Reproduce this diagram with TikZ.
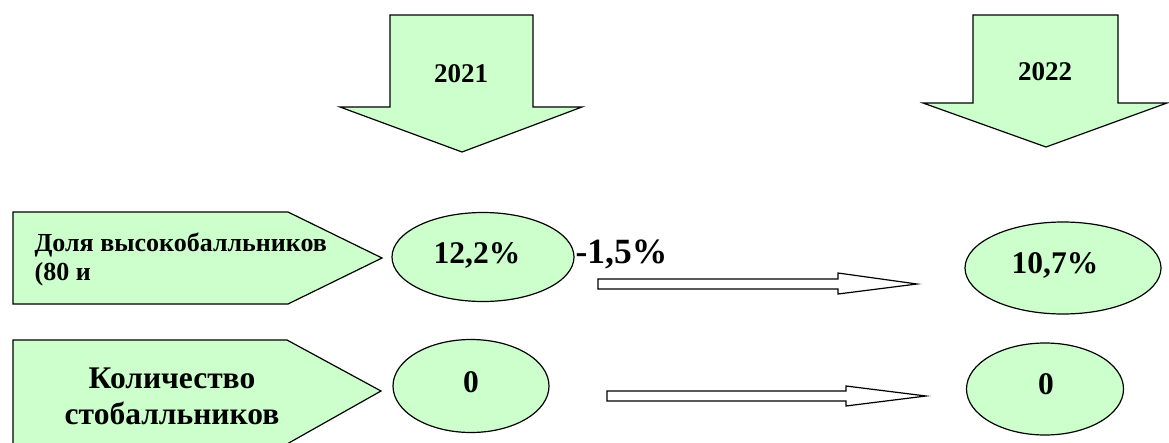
\documentclass[tikz,border=0pt]{standalone}
\usepackage{fontspec}
\setmainfont{Liberation Serif}
\usetikzlibrary{shapes.geometric}
\definecolor{svzel}{HTML}{CCFFCC}

\begin{document}
\begin{tikzpicture}[x=1pt, y=-1pt, line width=1.2pt,
  oval/.style={ellipse, draw, fill=svzel, inner sep=0pt},
  val/.style={font=\bfseries\fontsize{31.5}{34}\selectfont}]
\useasboundingbox (0,0) rectangle (1169,442);

% Стрелки годов
\draw[fill=svzel] (390,15) -- (533,15) -- (533,107) -- (582,107) -- (462,152)
  -- (340,107) -- (390,107) -- cycle;
\node[font=\bfseries\fontsize{27}{30}\selectfont, anchor=base] (g2021) at (461,82) {2021};

\draw[fill=svzel] (973,15) -- (1118,15) -- (1118,103) -- (1167,103) -- (1046,147)
  -- (923,103) -- (973,103) -- cycle;
\node[font=\bfseries\fontsize{27}{30}\selectfont, anchor=base] (g2022) at (1045,80) {2022};

% Подписи строк
\draw[fill=svzel] (13,212) -- (288,212) -- (382,258) -- (288,304) -- (13,304) -- cycle;
\node[font=\bfseries\fontsize{26}{29}\selectfont, align=left, anchor=west, inner sep=0pt]
  (dolya) at (34,259) {Доля высокобалльников\\(80 и};

\draw[fill=svzel] (13,340) -- (287,340) -- (381,391) -- (287,444) -- (13,444) -- cycle;
\node[font=\bfseries\fontsize{31.5}{36}\selectfont, align=center]
  (kolvo) at (172,396) {Количество\\стобалльников};

% Значения
\node[oval, minimum width=182pt, minimum height=89pt] (e21a) at (483,257) {};
\node[val, anchor=base] (t21a) at (477,263) {12,2\%};
\node[oval, minimum width=196pt, minimum height=92pt] (e22a) at (1063,268) {};
\node[val, anchor=base] (t22a) at (1055,273) {10,7\%};
\node[oval, minimum width=156pt, minimum height=93pt] (e21b) at (471,386) {};
\node[val, anchor=base] (t21b) at (471,392) {0};
\node[oval, minimum width=157pt, minimum height=92pt] (e22b) at (1045,389) {};
\node[val, anchor=base] (t22b) at (1046,394) {0};

\node[font=\bfseries\fontsize{35.5}{40}\selectfont, anchor=base west, inner sep=0pt]
  (raz) at (575,263) {-1,5\%};

% Блочные стрелки
\draw[fill=white] (598,279) -- (838,279) -- (838,273) -- (917,284) -- (838,294)
  -- (838,289) -- (598,289) -- cycle;
\draw[fill=white] (607,391) -- (846,391) -- (846,386) -- (926,396) -- (846,406)
  -- (846,401) -- (607,401) -- cycle;
\end{tikzpicture}
\end{document}
